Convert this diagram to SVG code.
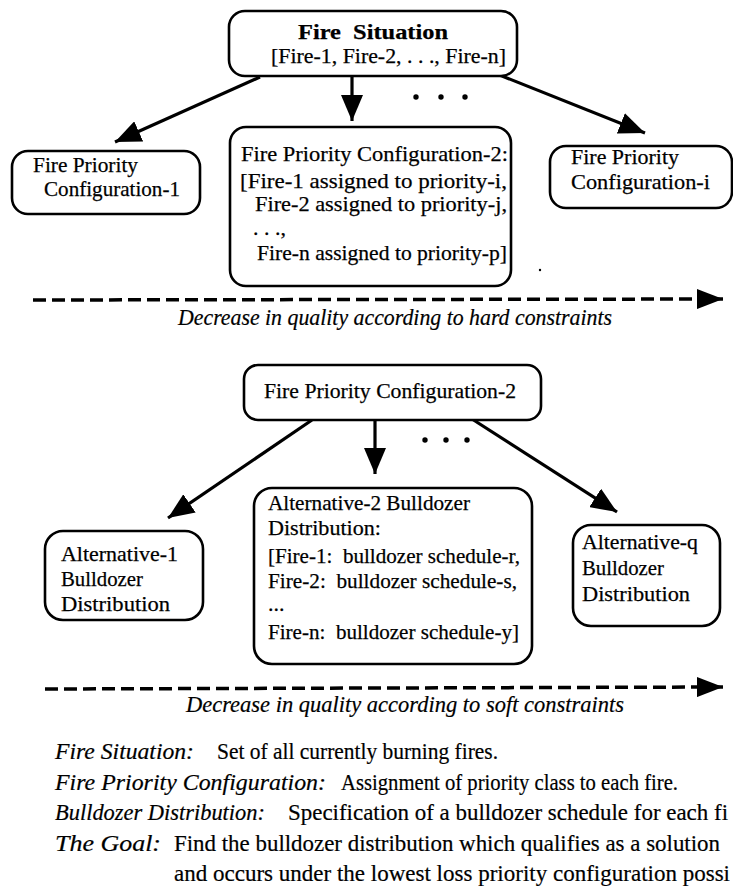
<svg xmlns="http://www.w3.org/2000/svg" width="733" height="893" viewBox="0 0 733 893">
  <defs>
    <marker id="head" markerUnits="userSpaceOnUse" markerWidth="28" markerHeight="22" refX="26" refY="11" orient="auto">
      <path d="M0,0 L26,11 L0,22 Z" fill="#000"/>
    </marker>
    <marker id="bighead" markerUnits="userSpaceOnUse" markerWidth="28" markerHeight="20" refX="26" refY="10" orient="auto">
      <path d="M0,0 L26,10 L0,20 Z" fill="#000"/>
    </marker>
  </defs>
  <style>
    .box { fill: #fff; stroke: #000; stroke-width: 2.6; }
    .t { font-family: "Liberation Serif", "DejaVu Serif", serif; font-size: 22px; fill: #000; stroke: #000; stroke-width: 0.25; white-space: pre; }
    .g { font-family: "Liberation Serif", "DejaVu Serif", serif; font-size: 22.5px; fill: #000; stroke: #000; stroke-width: 0.2; }
    .b { font-weight: bold; }
    .i { font-style: italic; }
    .edge { stroke: #000; stroke-width: 3.2; fill: none; marker-end: url(#head); }
    .scale { stroke: #000; stroke-width: 3.5; stroke-dasharray: 13 6; fill: none; marker-end: url(#bighead); }
    .dot { fill: #000; }
  </style>

  <!-- connectors -->
  <g id="connectors">
    <line class="edge" x1="260" y1="77" x2="115" y2="142"/>
    <line class="edge" x1="352" y1="77" x2="352" y2="121"/>
    <line class="edge" x1="497" y1="74" x2="645" y2="133"/>
    <line class="edge" x1="312" y1="420" x2="168" y2="518"/>
    <line class="edge" x1="375" y1="420" x2="375" y2="474"/>
    <line class="edge" x1="472" y1="419" x2="617" y2="512"/>
    <line class="scale" x1="33" y1="300" x2="723" y2="299"/>
    <line class="scale" x1="45" y1="689" x2="723" y2="687"/>
  </g>

  <!-- ellipsis marks between sibling branches -->
  <g id="ellipses">
    <circle class="dot" cx="416" cy="97" r="2.7"/>
    <circle class="dot" cx="441" cy="97" r="2.7"/>
    <circle class="dot" cx="465" cy="97" r="2.7"/>
    <circle class="dot" cx="425" cy="440" r="2.7"/>
    <circle class="dot" cx="446" cy="440" r="2.7"/>
    <circle class="dot" cx="467" cy="440" r="2.7"/>
    <circle class="dot" cx="540" cy="270" r="1.2"/>
  </g>

  <g id="fire-situation">
    <rect class="box" x="229" y="11" width="288" height="65" rx="16"/>
    <text class="t b" x="298" y="39" textLength="150" lengthAdjust="spacingAndGlyphs" xml:space="preserve">Fire  Situation</text>
    <text class="t" x="271" y="63" textLength="235" lengthAdjust="spacingAndGlyphs">[Fire-1, Fire-2, . . ., Fire-n]</text>
  </g>

  <g id="fpc-1">
    <rect class="box" x="12" y="151" width="188" height="63" rx="16"/>
    <text class="t" x="33" y="172" textLength="105" lengthAdjust="spacingAndGlyphs">Fire Priority</text>
    <text class="t" x="44" y="196" textLength="136" lengthAdjust="spacingAndGlyphs">Configuration-1</text>
  </g>

  <g id="fpc-2">
    <rect class="box" x="230" y="127" width="281" height="159" rx="16"/>
    <text class="t" x="241" y="161" textLength="267" lengthAdjust="spacingAndGlyphs">Fire Priority Configuration-2:</text>
    <text class="t" x="240" y="188" textLength="267" lengthAdjust="spacingAndGlyphs">[Fire-1 assigned to priority-i,</text>
    <text class="t" x="255" y="211" textLength="252" lengthAdjust="spacingAndGlyphs">Fire-2 assigned to priority-j,</text>
    <text class="t" x="253" y="235">. . .,</text>
    <text class="t" x="257" y="260" textLength="250" lengthAdjust="spacingAndGlyphs" fill="#222" stroke-width="0">Fire-n assigned to priority-p]</text>
  </g>

  <g id="fpc-i">
    <rect class="box" x="550" y="146" width="182" height="62" rx="16"/>
    <text class="t" x="571" y="164" textLength="108" lengthAdjust="spacingAndGlyphs">Fire Priority</text>
    <text class="t" x="571" y="189" textLength="139" lengthAdjust="spacingAndGlyphs">Configuration-i</text>
  </g>

  <text class="g i" x="178" y="325" textLength="434" lengthAdjust="spacingAndGlyphs">Decrease in quality according to hard constraints</text>

  <g id="fpc-2-root">
    <rect class="box" x="244" y="365" width="297" height="55" rx="14"/>
    <text class="t" x="264" y="398" textLength="252" lengthAdjust="spacingAndGlyphs">Fire Priority Configuration-2</text>
  </g>

  <g id="alt-1">
    <rect class="box" x="45" y="531" width="158" height="89" rx="18"/>
    <text class="t" x="61" y="561" textLength="117" lengthAdjust="spacingAndGlyphs">Alternative-1</text>
    <text class="t" x="61" y="586" textLength="82" lengthAdjust="spacingAndGlyphs">Bulldozer</text>
    <text class="t" x="61" y="611" textLength="109" lengthAdjust="spacingAndGlyphs">Distribution</text>
  </g>

  <g id="alt-2">
    <rect class="box" x="254" y="488" width="278" height="176" rx="18"/>
    <text class="t" x="268" y="510" textLength="202" lengthAdjust="spacingAndGlyphs">Alternative-2 Bulldozer</text>
    <text class="t" x="268" y="535" textLength="113" lengthAdjust="spacingAndGlyphs">Distribution:</text>
    <text class="t" x="268" y="563" textLength="252" lengthAdjust="spacingAndGlyphs" xml:space="preserve">[Fire-1:  bulldozer schedule-r,</text>
    <text class="t" x="268" y="588" textLength="249" lengthAdjust="spacingAndGlyphs" xml:space="preserve">Fire-2:  bulldozer schedule-s,</text>
    <text class="t" x="268" y="611">...</text>
    <text class="t" x="268" y="639" textLength="251" lengthAdjust="spacingAndGlyphs" xml:space="preserve">Fire-n:  bulldozer schedule-y]</text>
  </g>

  <g id="alt-q">
    <rect class="box" x="573" y="525" width="147" height="101" rx="18"/>
    <text class="t" x="582" y="549" textLength="116" lengthAdjust="spacingAndGlyphs">Alternative-q</text>
    <text class="t" x="582" y="575" textLength="82" lengthAdjust="spacingAndGlyphs">Bulldozer</text>
    <text class="t" x="582" y="601" textLength="108" lengthAdjust="spacingAndGlyphs">Distribution</text>
  </g>

  <text class="g i" x="186" y="712" textLength="438" lengthAdjust="spacingAndGlyphs">Decrease in quality according to soft constraints</text>

  <!-- glossary; the last words of two lines run past the page edge -->
  <g id="legend">
    <text class="g i" x="55" y="759" textLength="139" lengthAdjust="spacingAndGlyphs">Fire Situation:</text>
    <text class="g" x="217" y="759" textLength="281" lengthAdjust="spacingAndGlyphs">Set of all currently burning fires.</text>
    <text class="g i" x="55" y="790" textLength="271" lengthAdjust="spacingAndGlyphs">Fire Priority Configuration:</text>
    <text class="g" x="341" y="790" textLength="337" lengthAdjust="spacingAndGlyphs">Assignment of priority class to each fire.</text>
    <text class="g i" x="55" y="820" textLength="210" lengthAdjust="spacingAndGlyphs">Bulldozer Distribution:</text>
    <text class="g" x="288" y="820" textLength="440" lengthAdjust="spacingAndGlyphs">Specification of a bulldozer schedule for each fi</text>
    <text class="g i" x="55" y="851" textLength="106" lengthAdjust="spacingAndGlyphs">The Goal:</text>
    <text class="g" x="174" y="851" textLength="546" lengthAdjust="spacingAndGlyphs">Find the bulldozer distribution which qualifies as a solution</text>
    <text class="g" x="174" y="881" textLength="556" lengthAdjust="spacingAndGlyphs">and occurs under the lowest loss priority configuration possi</text>
  </g>
</svg>
